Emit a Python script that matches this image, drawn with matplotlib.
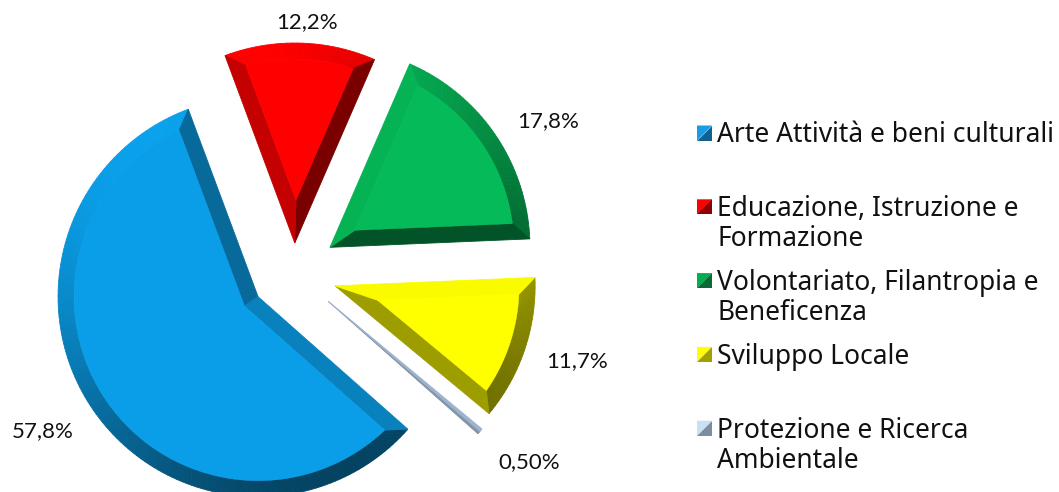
import numpy as np
import matplotlib.pyplot as plt
from matplotlib.patches import Polygon
from matplotlib.colors import to_rgb

# data
categories = ["Arte Attività e beni culturali",
              "Educazione, Istruzione e\nFormazione",
              "Volontariato, Filantropia e\nBeneficenza",
              "Sviluppo Locale",
              "Protezione e Ricerca\nAmbientale"]
shares = [57.8, 12.2, 17.8, 11.7, 0.5]
pct_labels = ["57,8%", "12,2%", "17,8%", "11,7%", "0,50%"]

# styling / layout
face_colors = ["#0A9EE8", "#FF0000", "#05BA58", "#FFFF00", "#A9C0DA"]
legend_light = ["#1A9BE2", "#FF0000", "#00B050", "#FFFF00", "#C8E2F4"]
legend_dark = ["#10618F", "#900000", "#0A6A35", "#A0A000", "#7A8DA2"]
explode = [0.218, 0.145, 0.218, 0.217, 0.225]
label_dist = [1.49, 1.25, 1.48, 1.485, 1.51]
label_nudge = [-2.1, -1.4, -3.7, 1.1, 1.6]
start_angle = 318.5
LIGHT = 120.0


def u(a):
    r = np.deg2rad(a)
    return np.array([np.cos(r), np.sin(r)])


def shade(color, normal_deg, lo=0.72, k=0.3):
    f = lo + k * np.cos(np.deg2rad(normal_deg - LIGHT))
    return tuple(np.clip(np.array(to_rgb(color)) * f, 0, 1))


def add_poly(ax, pts, col):
    ax.add_patch(Polygon(pts, closed=True, fc=col, ec=col, lw=0.6))


def bevel_wedge(ax, P, t1, t2, color, R=1.0, d=0.08):
    half = (t2 - t1) / 2
    mid = (t1 + t2) / 2
    if np.sin(np.deg2rad(half)) * (R - d) < d * 1.3:
        # too thin for a bevel: two shaded halves
        for a, b, nd in [(t1, mid, t1 - 90), (mid, t2, t2 + 90)]:
            arc = [P + R * u(x) for x in np.linspace(a, b, 8)]
            add_poly(ax, [P] + arc, shade(color, nd, lo=0.85, k=0.25))
        return
    n = max(int((t2 - t1) / 1.5), 2)
    delta = np.rad2deg(np.arcsin(d / (R - d)))
    Pin = P + d / np.sin(np.deg2rad(half)) * u(mid)
    out_a = np.linspace(t1, t2, n + 1)
    in_a = np.linspace(t1 + delta, t2 - delta, n + 1)
    for j in range(n):
        quad = [P + R * u(out_a[j]), P + R * u(out_a[j + 1]),
                P + (R - d) * u(in_a[j + 1]), P + (R - d) * u(in_a[j])]
        add_poly(ax, quad, shade(color, (out_a[j] + out_a[j + 1]) / 2))
    add_poly(ax, [P, P + R * u(t1), P + (R - d) * u(t1 + delta), Pin],
             shade(color, t1 - 90))
    add_poly(ax, [P, Pin, P + (R - d) * u(t2 - delta), P + R * u(t2)],
             shade(color, t2 + 90))
    face = [Pin] + [P + (R - d) * u(a) for a in in_a]
    ax.add_patch(Polygon(face, closed=True, fc=color, ec=color, lw=0.3))


fig = plt.figure(figsize=(10.59, 4.92), dpi=100)
ax = fig.add_axes([0, 0, 1, 1])
ax.set_xlim(-1.47, 3.825)
ax.set_ylim(-1.10, 1.36)
ax.set_aspect("equal")
ax.axis("off")

a0 = start_angle
for i, v in enumerate(shares):
    span = 3.6 * v
    t2, t1 = a0, a0 - span
    mid = (t1 + t2) / 2
    P = explode[i] * u(mid)
    bevel_wedge(ax, P, t1, t2, face_colors[i])
    lp = label_dist[i] * u(mid + label_nudge[i])
    ax.text(lp[0], lp[1], pct_labels[i], ha="center", va="center",
            fontsize=16, family="Lato", color="#111111")
    a0 = t1

# legend
leg_x, leg_y0, leg_step, box = 2.015, 0.695, 0.369, 0.075
line_gap, half_cap = 0.15, 0.047
for i, lab in enumerate(categories):
    y = leg_y0 - i * leg_step
    x0, y0 = leg_x, y - box / 2
    ax.add_patch(Polygon([(x0, y0 + box), (x0, y0), (x0 + box, y0 + box)],
                         fc=legend_light[i], ec="none"))
    ax.add_patch(Polygon([(x0, y0), (x0 + box, y0), (x0 + box, y0 + box)],
                         fc=legend_dark[i], ec="none"))
    for k, line in enumerate(lab.split("\n")):
        ax.text(x0 + box + 0.025, y - half_cap - k * line_gap, line,
                ha="left", va="baseline", fontsize=19, family="Noto Sans",
                color="#111111")

fig.savefig("out.png", dpi=100)
